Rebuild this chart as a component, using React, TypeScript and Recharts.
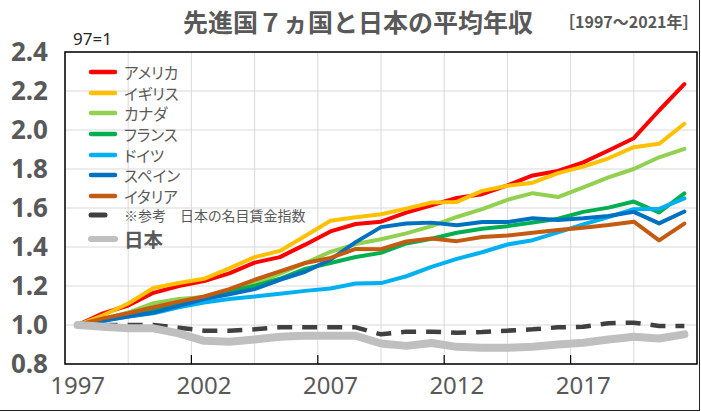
import React from "react"
import { LineChart, Line, XAxis, YAxis, CartesianGrid, ReferenceArea, ReferenceLine } from "recharts"

// 1997=1 とした指数
const years = [
  1997, 1998, 1999, 2000, 2001, 2002, 2003, 2004, 2005, 2006, 2007, 2008, 2009,
  2010, 2011, 2012, 2013, 2014, 2015, 2016, 2017, 2018, 2019, 2020, 2021,
]

const usa = [1.0, 1.06, 1.1, 1.165, 1.2, 1.225, 1.265, 1.32, 1.348, 1.412, 1.48, 1.518, 1.53, 1.576, 1.614, 1.652, 1.671, 1.716, 1.767, 1.79, 1.834, 1.895, 1.958, 2.1, 2.235]
const uk = [1.0, 1.05, 1.11, 1.19, 1.215, 1.237, 1.29, 1.348, 1.38, 1.456, 1.535, 1.553, 1.568, 1.597, 1.628, 1.631, 1.688, 1.714, 1.73, 1.779, 1.812, 1.855, 1.912, 1.929, 2.032]
const canada = [1.0, 1.03, 1.064, 1.112, 1.133, 1.143, 1.167, 1.212, 1.263, 1.318, 1.375, 1.415, 1.44, 1.47, 1.507, 1.554, 1.594, 1.642, 1.676, 1.656, 1.706, 1.757, 1.8, 1.86, 1.903]
const france = [1.0, 1.026, 1.052, 1.077, 1.108, 1.138, 1.172, 1.201, 1.237, 1.288, 1.318, 1.349, 1.37, 1.418, 1.442, 1.473, 1.494, 1.507, 1.525, 1.545, 1.58, 1.602, 1.633, 1.577, 1.675]
const germany = [1.0, 1.022, 1.043, 1.06, 1.091, 1.115, 1.133, 1.146, 1.16, 1.175, 1.187, 1.213, 1.215, 1.25, 1.298, 1.339, 1.373, 1.413, 1.435, 1.475, 1.516, 1.554, 1.594, 1.596, 1.649]
const spain = [1.0, 1.022, 1.043, 1.064, 1.098, 1.133, 1.158, 1.184, 1.232, 1.273, 1.335, 1.425, 1.502, 1.521, 1.525, 1.511, 1.528, 1.528, 1.547, 1.538, 1.547, 1.559, 1.58, 1.521, 1.582]
const italy = [1.0, 1.034, 1.06, 1.091, 1.12, 1.146, 1.184, 1.232, 1.275, 1.318, 1.344, 1.39, 1.389, 1.428, 1.444, 1.43, 1.451, 1.459, 1.473, 1.487, 1.499, 1.513, 1.53, 1.434, 1.52]
const japanWage = [1.0, 1.0, 1.0, 1.0, 0.986, 0.971, 0.971, 0.978, 0.988, 0.988, 0.988, 0.988, 0.952, 0.966, 0.966, 0.96, 0.964, 0.971, 0.978, 0.988, 0.991, 1.009, 1.012, 0.995, 0.995]
const japan = [1.0, 0.991, 0.983, 0.983, 0.957, 0.919, 0.914, 0.926, 0.94, 0.945, 0.945, 0.945, 0.905, 0.893, 0.908, 0.888, 0.883, 0.883, 0.888, 0.9, 0.909, 0.926, 0.94, 0.931, 0.952]

const xTicks = [1997, 2002, 2007, 2012, 2017]
const yTicks = [0.8, 1.0, 1.2, 1.4, 1.6, 1.8, 2.0, 2.2, 2.4]
const gridYears = [1999, 2001.5, 2004, 2006.5, 2009, 2011.5, 2014, 2016.5, 2019]
const tickMarkYears = [2001.5, 2006.5, 2011.5, 2016.5]

const series = [
  { key: "usa", name: "アメリカ", color: "#FF0000", width: 4, dash: undefined, values: usa },
  { key: "uk", name: "イギリス", color: "#FFC000", width: 4, dash: undefined, values: uk },
  { key: "canada", name: "カナダ", color: "#92D050", width: 4, dash: undefined, values: canada },
  { key: "france", name: "フランス", color: "#00B050", width: 4, dash: undefined, values: france },
  { key: "germany", name: "ドイツ", color: "#00B0F0", width: 4, dash: undefined, values: germany },
  { key: "spain", name: "スペイン", color: "#0070C0", width: 4, dash: undefined, values: spain },
  { key: "italy", name: "イタリア", color: "#C55A11", width: 4, dash: undefined, values: italy },
  { key: "japanWage", name: "※参考　日本の名目賃金指数", color: "#404040", width: 4.5, dash: "15 10", values: japanWage },
  { key: "japan", name: "日本", color: "#BFBFBF", width: 8, dash: undefined, values: japan },
]

const data = years.map((year, i) => {
  const row: Record<string, number> = { year }
  series.forEach((s) => {
    row[s.key] = s.values[i]
  })
  return row
})

const jpFont = '"Noto Sans CJK JP", "Noto Sans", sans-serif'
const textGray = "#595959"

function LegendBox() {
  return (
    <div
      style={{
        position: "absolute",
        left: 88,
        top: 62,
        fontFamily: jpFont,
        color: textGray,
        fontFeatureSettings: '"palt"',
      }}
    >
      {series.map((s) => {
        const isWage = s.key === "japanWage"
        const isJapan = s.key === "japan"
        return (
          <div
            key={s.key}
            style={{
              display: "flex",
              alignItems: "center",
              height: 20.6,
              marginTop: isJapan ? 3 : isWage ? -1 : 0,
            }}
          >
            <svg width={30} height={10} style={{ flex: "none" }}>
              <line
                x1={3}
                x2={isWage ? 17 : 27}
                y1={5}
                y2={5}
                stroke={s.color}
                strokeWidth={isJapan ? 6 : isWage ? 5 : 4.5}
                strokeLinecap="round"
              />
            </svg>
            <div
              style={{
                marginLeft: 6,
                whiteSpace: "nowrap",
                fontSize: isJapan ? 19.5 : isWage ? 14 : 15.5,
                fontWeight: isJapan ? 700 : 400,
                height: 20,
                lineHeight: "20px",
              }}
            >
              {s.name}
            </div>
          </div>
        )
      })}
    </div>
  )
}

export default function App() {
  return (
    <div style={{ position: "absolute", left: 0, top: 0, width: 701, height: 412, background: "#fff", overflow: "hidden" }}>
      <div
        style={{
          position: "absolute",
          left: 183,
          top: 5,
          fontFamily: jpFont,
          fontSize: 25,
          fontWeight: 700,
          lineHeight: "32px",
          color: textGray,
          whiteSpace: "nowrap",
        }}
      >
        先進国７ヵ国と日本の平均年収
      </div>
      <div
        style={{
          position: "absolute",
          left: 559,
          top: 9,
          fontFamily: jpFont,
          fontSize: 16,
          fontWeight: 700,
          lineHeight: "24px",
          color: textGray,
          whiteSpace: "nowrap",
        }}
      >
        ［1997～2021年］
      </div>
      <div
        style={{
          position: "absolute",
          left: 73,
          top: 28,
          fontFamily: '"Noto Sans", sans-serif',
          fontSize: 17,
          lineHeight: "22px",
          color: "#262626",
        }}
      >
        97=1
      </div>

      <LineChart width={701} height={412} data={data} margin={{ top: 52, right: 4, bottom: 0, left: 0 }}>
        <XAxis
          xAxisId="grid"
          dataKey="year"
          type="number"
          orientation="top"
          height={0}
          domain={[1996.5, 2021.5]}
          ticks={gridYears}
          allowDataOverflow
          hide
        />
        <CartesianGrid xAxisId="grid" stroke="#D9D9D9" strokeWidth={1} />
        <XAxis
          xAxisId="year"
          dataKey="year"
          type="number"
          domain={[1996.5, 2021.5]}
          ticks={xTicks}
          interval={0}
          allowDataOverflow
          tickLine={false}
          axisLine={false}
          height={48}
          tickMargin={7}
          tick={{ fill: textGray, fontSize: 24, fontFamily: '"Noto Sans", sans-serif' }}
        />
        <YAxis
          domain={[0.8, 2.4]}
          ticks={yTicks}
          interval={0}
          allowDataOverflow
          tickFormatter={(v: number) => v.toFixed(1)}
          width={65}
          tickLine={false}
          axisLine={false}
          tickMargin={11}
          tick={{ fill: textGray, fontSize: 26, fontWeight: 700, fontFamily: '"Noto Sans", sans-serif' }}
        />
        {tickMarkYears.map((y) => (
          <ReferenceLine
            key={y}
            xAxisId="year"
            segment={[
              { x: y, y: 0.8 },
              { x: y, y: 0.846 },
            ]}
            stroke="#000"
            strokeWidth={1.2}
          />
        ))}
        {series.map((s) => (
          <Line
            key={s.key}
            xAxisId="year"
            type="linear"
            dataKey={s.key}
            name={s.name}
            stroke={s.color}
            strokeWidth={s.width}
            strokeDasharray={s.dash}
            strokeLinejoin="round"
            strokeLinecap={s.dash ? "butt" : "round"}
            dot={false}
            activeDot={false}
            isAnimationActive={false}
          />
        ))}
        <ReferenceArea
          xAxisId="year"
          x1={1996.5}
          x2={2021.5}
          y1={0.8}
          y2={2.4}
          fill="none"
          stroke="#000"
          strokeWidth={1.5}
          ifOverflow="visible"
        />
      </LineChart>

      <LegendBox />

      <div
        style={{
          position: "absolute",
          left: 0,
          top: 0,
          width: 699,
          height: 410,
          borderRight: "1.5px solid #222",
          borderBottom: "1.5px solid #222",
          pointerEvents: "none",
        }}
      />
    </div>
  )
}
